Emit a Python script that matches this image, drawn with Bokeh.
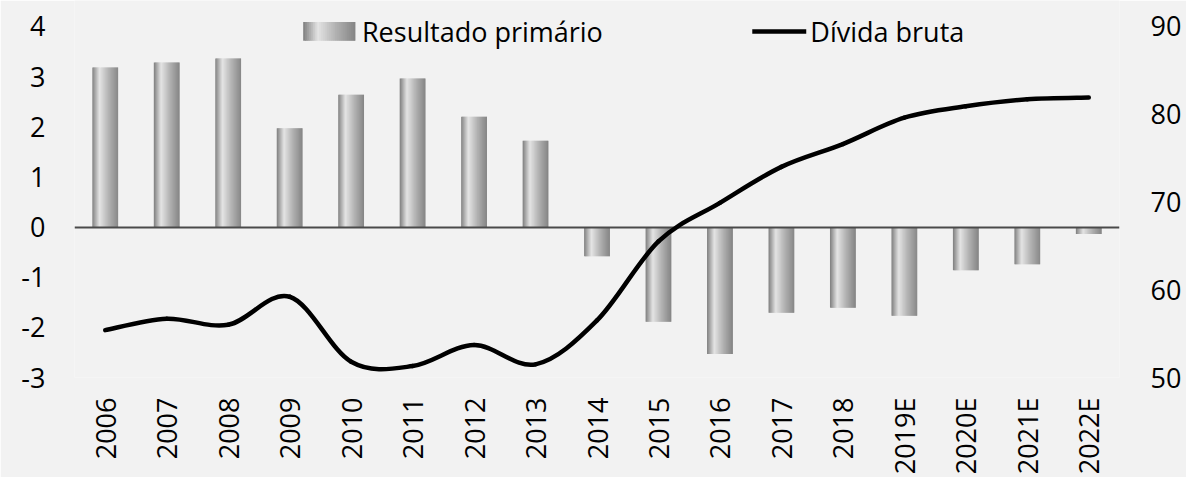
import math
import numpy as np
from bokeh.plotting import figure
from bokeh.models import (Range1d, LinearAxis, FixedTicker, BoxAnnotation, Label,
                          ColumnDataSource)
from bokeh.transform import dodge
from bokeh.embed import file_html
from bokeh.resources import INLINE

# ---------------- data ----------------
categories = ["2006", "2007", "2008", "2009", "2010", "2011", "2012", "2013", "2014",
              "2015", "2016", "2017", "2018", "2019E", "2020E", "2021E", "2022E"]
resultado_primario = [3.18, 3.28, 3.36, 1.97, 2.64, 2.96, 2.20, 1.72, -0.58,
                      -1.89, -2.53, -1.71, -1.61, -1.77, -0.86, -0.74, -0.14]
divida_bruta = [55.4, 56.7, 56.0, 59.2, 51.8, 51.3, 53.7, 51.5, 56.5,
                65.5, 69.9, 74.0, 76.6, 79.6, 80.9, 81.7, 81.9]
left_ticks = [-3, -2, -1, 0, 1, 2, 3, 4]
left_tick_labels = ["-3", "-2", "-1", "0", "1", "2", "3", "4"]
right_ticks = [50, 60, 70, 80, 90]
series_names = ["Resultado primário", "Dívida bruta"]

# ---------------- style ----------------
FONT = "Open Sans"
FS = "27px"
BG = "#f2f2f2"
PAD = 0.517  # headroom above the top tick (left-axis units)
BAR_W = 0.42
N_STRIPS = 26
grad_stops = [(0.0, 126), (0.28, 228), (0.62, 178), (1.0, 132)]


def shade(t):
    for (t0, v0), (t1, v1) in zip(grad_stops[:-1], grad_stops[1:]):
        if t <= t1:
            v = v0 + (v1 - v0) * (t - t0) / (t1 - t0)
            break
    v = int(round(v))
    return "#%02x%02x%02x" % (v, v, v)


n = len(categories)
idx = list(range(n))
src = ColumnDataSource(dict(x=idx, top=resultado_primario))

lmin, lmax = left_ticks[0], left_ticks[-1]
rmin, rmax = right_ticks[0], right_ticks[-1]
r_pad = PAD * (rmax - rmin) / (lmax - lmin)

p = figure(width=1186, height=477, output_backend="svg", toolbar_location=None,
           x_range=Range1d(-0.5, n - 0.5), y_range=Range1d(lmin, lmax + PAD),
           min_border_left=74, min_border_right=67, min_border_top=0,
           min_border_bottom=99)
p.extra_y_ranges = {"debt": Range1d(rmin, rmax + r_pad)}
p.background_fill_color = BG
p.border_fill_color = BG
p.outline_line_color = None
p.xgrid.grid_line_color = None
p.ygrid.grid_line_color = None

# gradient bars built from narrow strips
sw = BAR_W / N_STRIPS
for k in range(N_STRIPS):
    t = (k + 0.5) / N_STRIPS
    off = -BAR_W / 2 + (k + 0.5) * sw
    wk = sw * 1.6 if k < N_STRIPS - 1 else sw
    p.vbar(x=dodge("x", off + (wk - sw) / 2), top="top", bottom=0, width=wk,
           source=src, fill_color=shade(t), line_color=None)

# zero line
p.hspan(y=[0], line_color="#4a4a4a", line_width=2)

# smoothed debt line (Catmull-Rom as cubic Bezier segments)
xs = np.array(idx, dtype=float)
ys = np.array(divida_bruta, dtype=float)
i0 = np.arange(n - 1)
prv = np.maximum(i0 - 1, 0)
nxt = np.minimum(i0 + 2, n - 1)
bez = dict(
    x0=xs[i0], y0=ys[i0], x1=xs[i0 + 1], y1=ys[i0 + 1],
    cx0=xs[i0] + (xs[i0 + 1] - xs[prv]) / 6, cy0=ys[i0] + (ys[i0 + 1] - ys[prv]) / 6,
    cx1=xs[i0 + 1] - (xs[nxt] - xs[i0]) / 6, cy1=ys[i0 + 1] - (ys[nxt] - ys[i0]) / 6,
)
p.bezier(x0="x0", y0="y0", x1="x1", y1="y1", cx0="cx0", cy0="cy0", cx1="cx1", cy1="cy1",
         source=ColumnDataSource(bez), line_color="black", line_width=4.5,
         line_cap="round", y_range_name="debt")

# axes
p.xaxis.ticker = FixedTicker(ticks=idx)
p.xaxis.major_label_overrides = {i: c for i, c in enumerate(categories)}
p.xaxis.major_label_orientation = math.pi / 2
p.xaxis.major_label_standoff = 20

p.yaxis.ticker = FixedTicker(ticks=left_ticks)
p.yaxis.major_label_overrides = dict(zip(left_ticks, left_tick_labels))
p.yaxis.major_label_standoff = 29

rax = LinearAxis(y_range_name="debt", ticker=FixedTicker(ticks=right_ticks))
rax.major_label_standoff = 31
p.add_layout(rax, "right")

for ax in [p.xaxis[0], p.yaxis[0], rax]:
    ax.axis_line_color = None
    ax.major_tick_line_color = None
    ax.minor_tick_line_color = None
    ax.major_tick_out = 0
    ax.major_label_text_font = FONT
    ax.major_label_text_font_size = FS
    ax.major_label_text_color = "#000000"

# legend (manual, to show the gradient swatch)
LEG_Y = 3.90
sx0, sx1 = 3.22, 4.07
swatch_h = 0.186
dw = (sx1 - sx0) / N_STRIPS
for k in range(N_STRIPS):
    t = (k + 0.5) / N_STRIPS
    right = sx0 + (k + 1.6) * dw if k < N_STRIPS - 1 else sx1
    p.add_layout(BoxAnnotation(left=sx0 + k * dw, right=right,
                               bottom=LEG_Y - swatch_h, top=LEG_Y + swatch_h,
                               fill_color=shade(t), fill_alpha=1, line_color=None))
p.add_layout(Label(x=4.176, y=LEG_Y, text=series_names[0], text_font=FONT,
                   text_font_size=FS, text_baseline="middle", text_color="black"))
p.add_layout(BoxAnnotation(left=10.526, right=11.404, bottom=LEG_Y - 0.046,
                           top=LEG_Y + 0.046, fill_color="black", fill_alpha=1,
                           line_color=None))
p.add_layout(Label(x=11.47, y=LEG_Y, text=series_names[1], text_font=FONT,
                   text_font_size=FS, text_baseline="middle", text_color="black"))

open("out.html", "w").write(file_html(p, INLINE))
